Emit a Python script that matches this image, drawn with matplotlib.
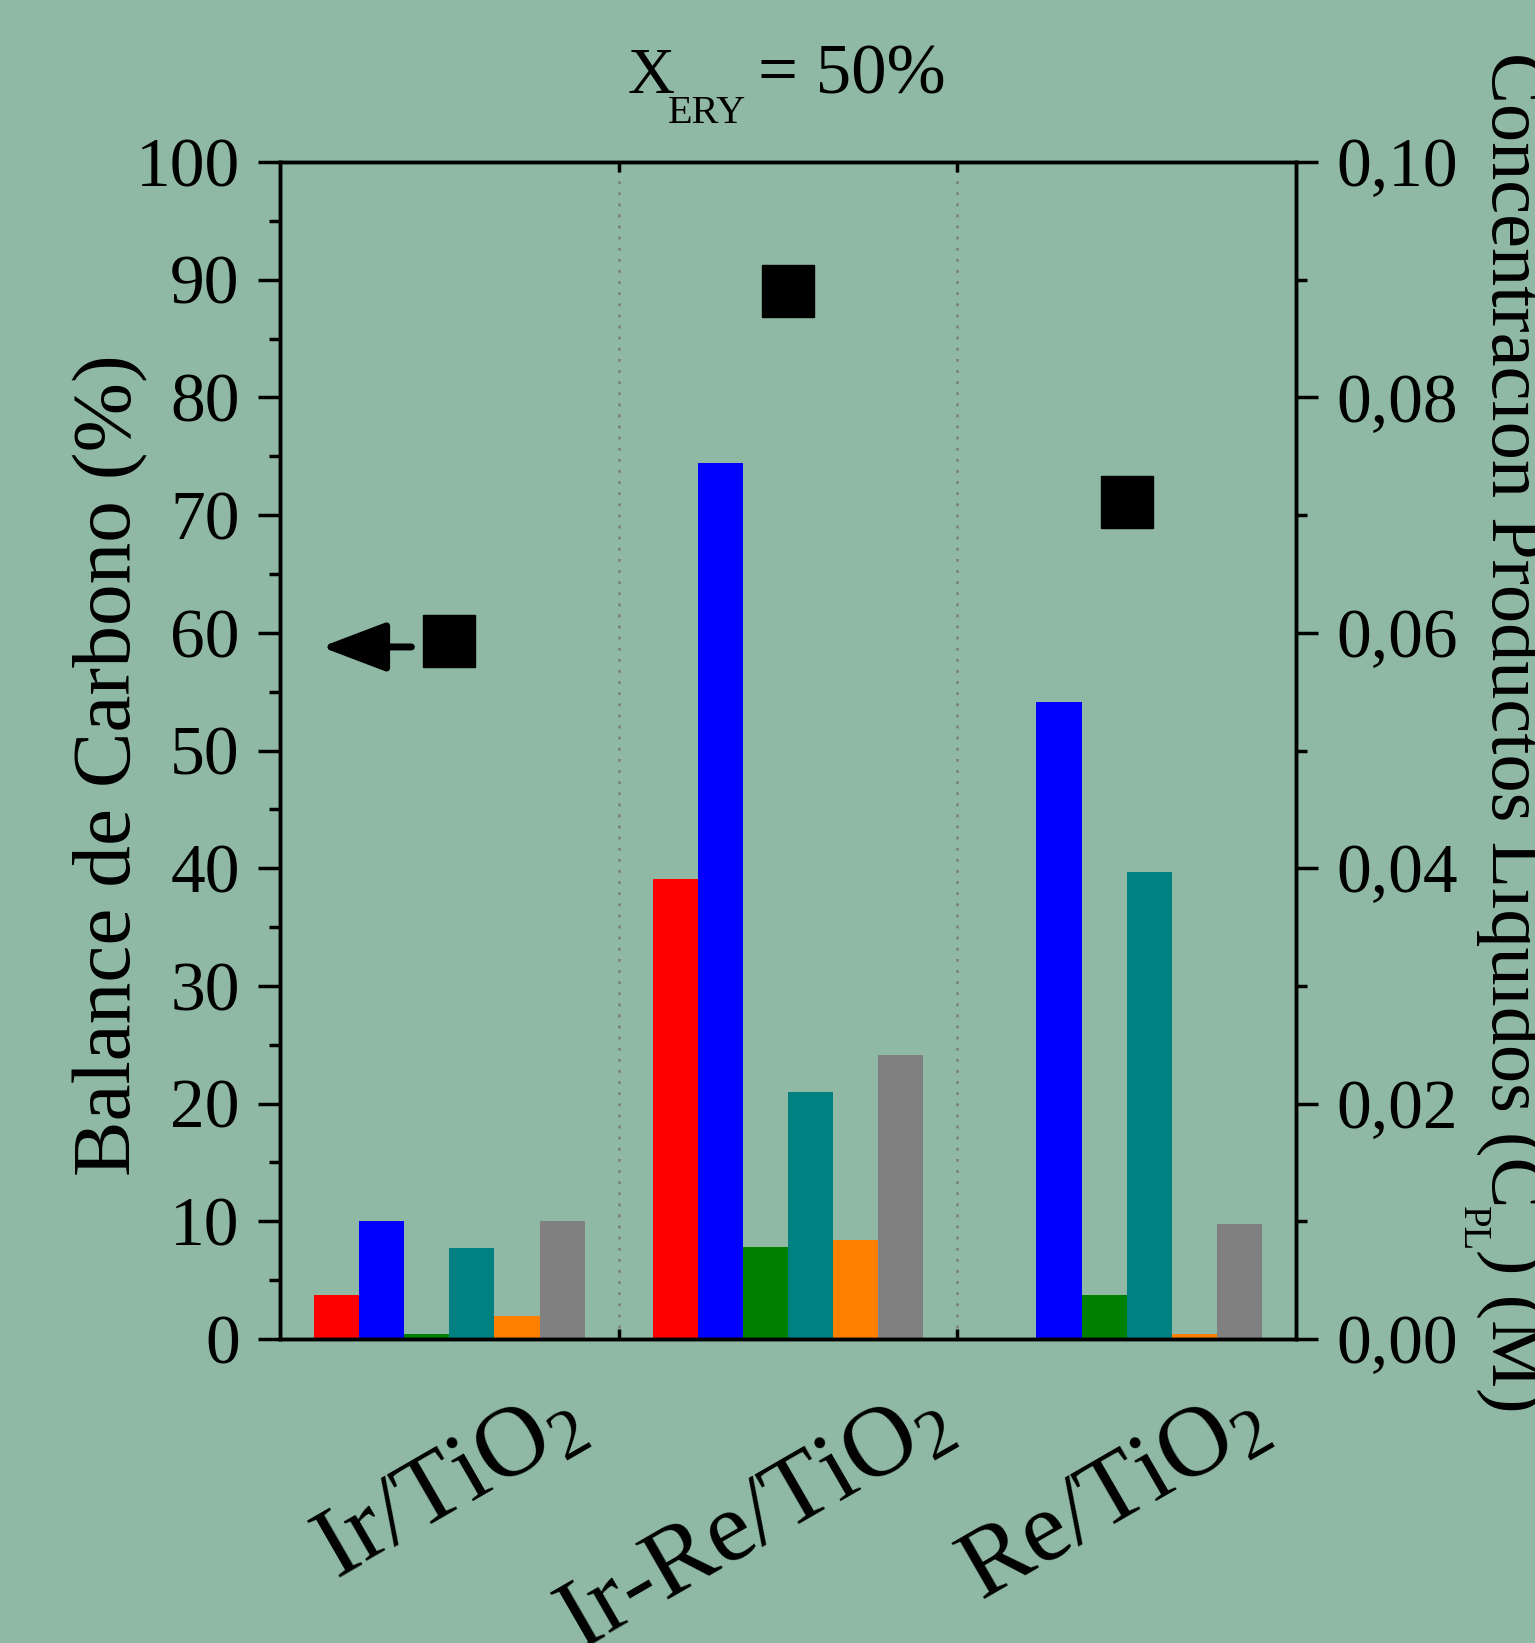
import numpy as np
import matplotlib
matplotlib.use("Agg")
import matplotlib.pyplot as plt
import matplotlib.transforms as mtransforms
from matplotlib.ticker import MultipleLocator, FuncFormatter

# data
catalysts = ["Ir/TiO$_2$", "Ir-Re/TiO$_2$", "Re/TiO$_2$"]

# liquid product concentrations (M), one list per bar colour
conc_red = [0.0037, 0.0391, 0.0]
conc_blue = [0.0100, 0.0744, 0.0541]
conc_green = [0.0004, 0.0078, 0.0037]
conc_teal = [0.0077, 0.0210, 0.0397]
conc_orange = [0.0020, 0.0084, 0.0004]
conc_gray = [0.0100, 0.0241, 0.0098]

# carbon balance (%), black squares on the left axis
carbon_balance = [59.3, 89.0, 71.1]

bar_colors = ["#ff0000", "#0000ff", "#008000", "#008080", "#ff8000", "#808080"]
bg = "#8fb9a4"

plt.rcParams["font.family"] = ["Liberation Serif", "DejaVu Serif"]
plt.rcParams["mathtext.fontset"] = "custom"
plt.rcParams["mathtext.rm"] = "Liberation Serif"
plt.rcParams["mathtext.default"] = "regular"

W, H = 1535, 1643
fig = plt.figure(figsize=(W / 100, H / 100), dpi=100, facecolor=bg)
ax = fig.add_axes([0.1824, 0.185, 0.6619, 0.7164])
ax2 = ax.twinx()
ax.set_zorder(2)
ax2.set_zorder(1)
ax.patch.set_visible(False)
ax2.patch.set_facecolor(bg)

x = np.arange(len(catalysts))
series = [conc_red, conc_blue, conc_green, conc_teal, conc_orange, conc_gray]
w = 0.8 / len(series)
for i, (vals, c) in enumerate(zip(series, bar_colors)):
    ax2.bar(x + (i - 2.5) * w, vals, width=w, color=c, edgecolor="none")

ax.plot(x, carbon_balance, "s", color="black", markersize=38, linestyle="none")
ax.annotate("", xy=(-0.378, 58.8), xytext=(-0.112, 58.8),
            arrowprops=dict(arrowstyle="-|>,head_length=1.0,head_width=0.38",
                            lw=5, color="black", mutation_scale=40, shrinkA=0, shrinkB=0))

for sep in [0.5, 1.5]:
    ax.axvline(sep, color="#808080", linestyle=(0, (1, 3)), lw=2, zorder=0)

ax.set_xlim(-0.5, 2.5)
ax.set_ylim(0, 100)
ax2.set_ylim(0, 0.10)

ax.yaxis.set_major_locator(MultipleLocator(10))
ax.yaxis.set_minor_locator(MultipleLocator(5))
ax2.yaxis.set_major_locator(MultipleLocator(0.02))
ax2.yaxis.set_minor_locator(MultipleLocator(0.01))
ax2.yaxis.set_major_formatter(FuncFormatter(lambda v, p: f"{v:.2f}".replace(".", ",")))

# category labels: rotated, the longer ones sit a little left of their group
ax.set_xticks(x)
ax.set_xticklabels([])
label_shift = [0, -24, -9]  # points
for xi, name, dx in zip(x, catalysts, label_shift):
    tr = ax.get_xaxis_transform() + mtransforms.ScaledTranslation(dx / 72, 0, fig.dpi_scale_trans)
    ax.text(xi, -0.030, name, transform=tr, rotation=30, ha="center", va="top",
            fontsize=72, clip_on=False)
ax.set_xticks([0.5, 1.5], minor=True)
ax.tick_params(axis="x", which="major", length=0, top=False)
ax.tick_params(axis="x", which="minor", direction="in", length=7, width=2.5,
               top=True, bottom=True)

ax.tick_params(axis="y", which="major", direction="out", length=16, width=2.5,
               pad=13, labelsize=50)
ax.tick_params(axis="y", which="minor", direction="out", length=8, width=2.5)
ax2.tick_params(axis="y", which="major", direction="out", length=16, width=2.5,
                pad=13, labelsize=50)
ax2.tick_params(axis="y", which="minor", direction="out", length=8, width=2.5)
ax2.tick_params(axis="x", which="both", length=0, labelbottom=False)

for a in (ax, ax2):
    for s in a.spines.values():
        s.set_linewidth(2.5)

ax.set_ylabel("Balance de Carbono (%)", fontsize=60)
ax.yaxis.set_label_coords(-0.130, 0.488)

# right label, built in pieces so the subscript drops like in the original
fig.canvas.draw()
r = fig.canvas.get_renderer()
kw = dict(rotation=270, rotation_mode="anchor", ha="left", va="baseline")
t1 = fig.text(1492 / W, 1 - 52 / H, "Concentracion Productos Liquidos (C",
              fontsize=55, **kw)
y_end = t1.get_window_extent(r).y0
t2 = fig.text(1463 / W, (y_end + 2) / H, "PL", fontsize=28, **kw)
y_end = t2.get_window_extent(r).y0
fig.text(1492 / W, (y_end + 2) / H, ") (M)", fontsize=55, **kw)

# title: X with a lowered subscript, then "= 50%"
fig.text(628 / W, 1 - 93 / H, "X", ha="left", va="baseline", fontsize=47)
fig.text(668 / W, 1 - 123 / H, "ERY", ha="left", va="baseline", fontsize=29)
fig.text(758 / W, 1 - 93 / H, "= 50%", ha="left", va="baseline", fontsize=51)

fig.savefig("out.png", dpi=100, facecolor=bg)
